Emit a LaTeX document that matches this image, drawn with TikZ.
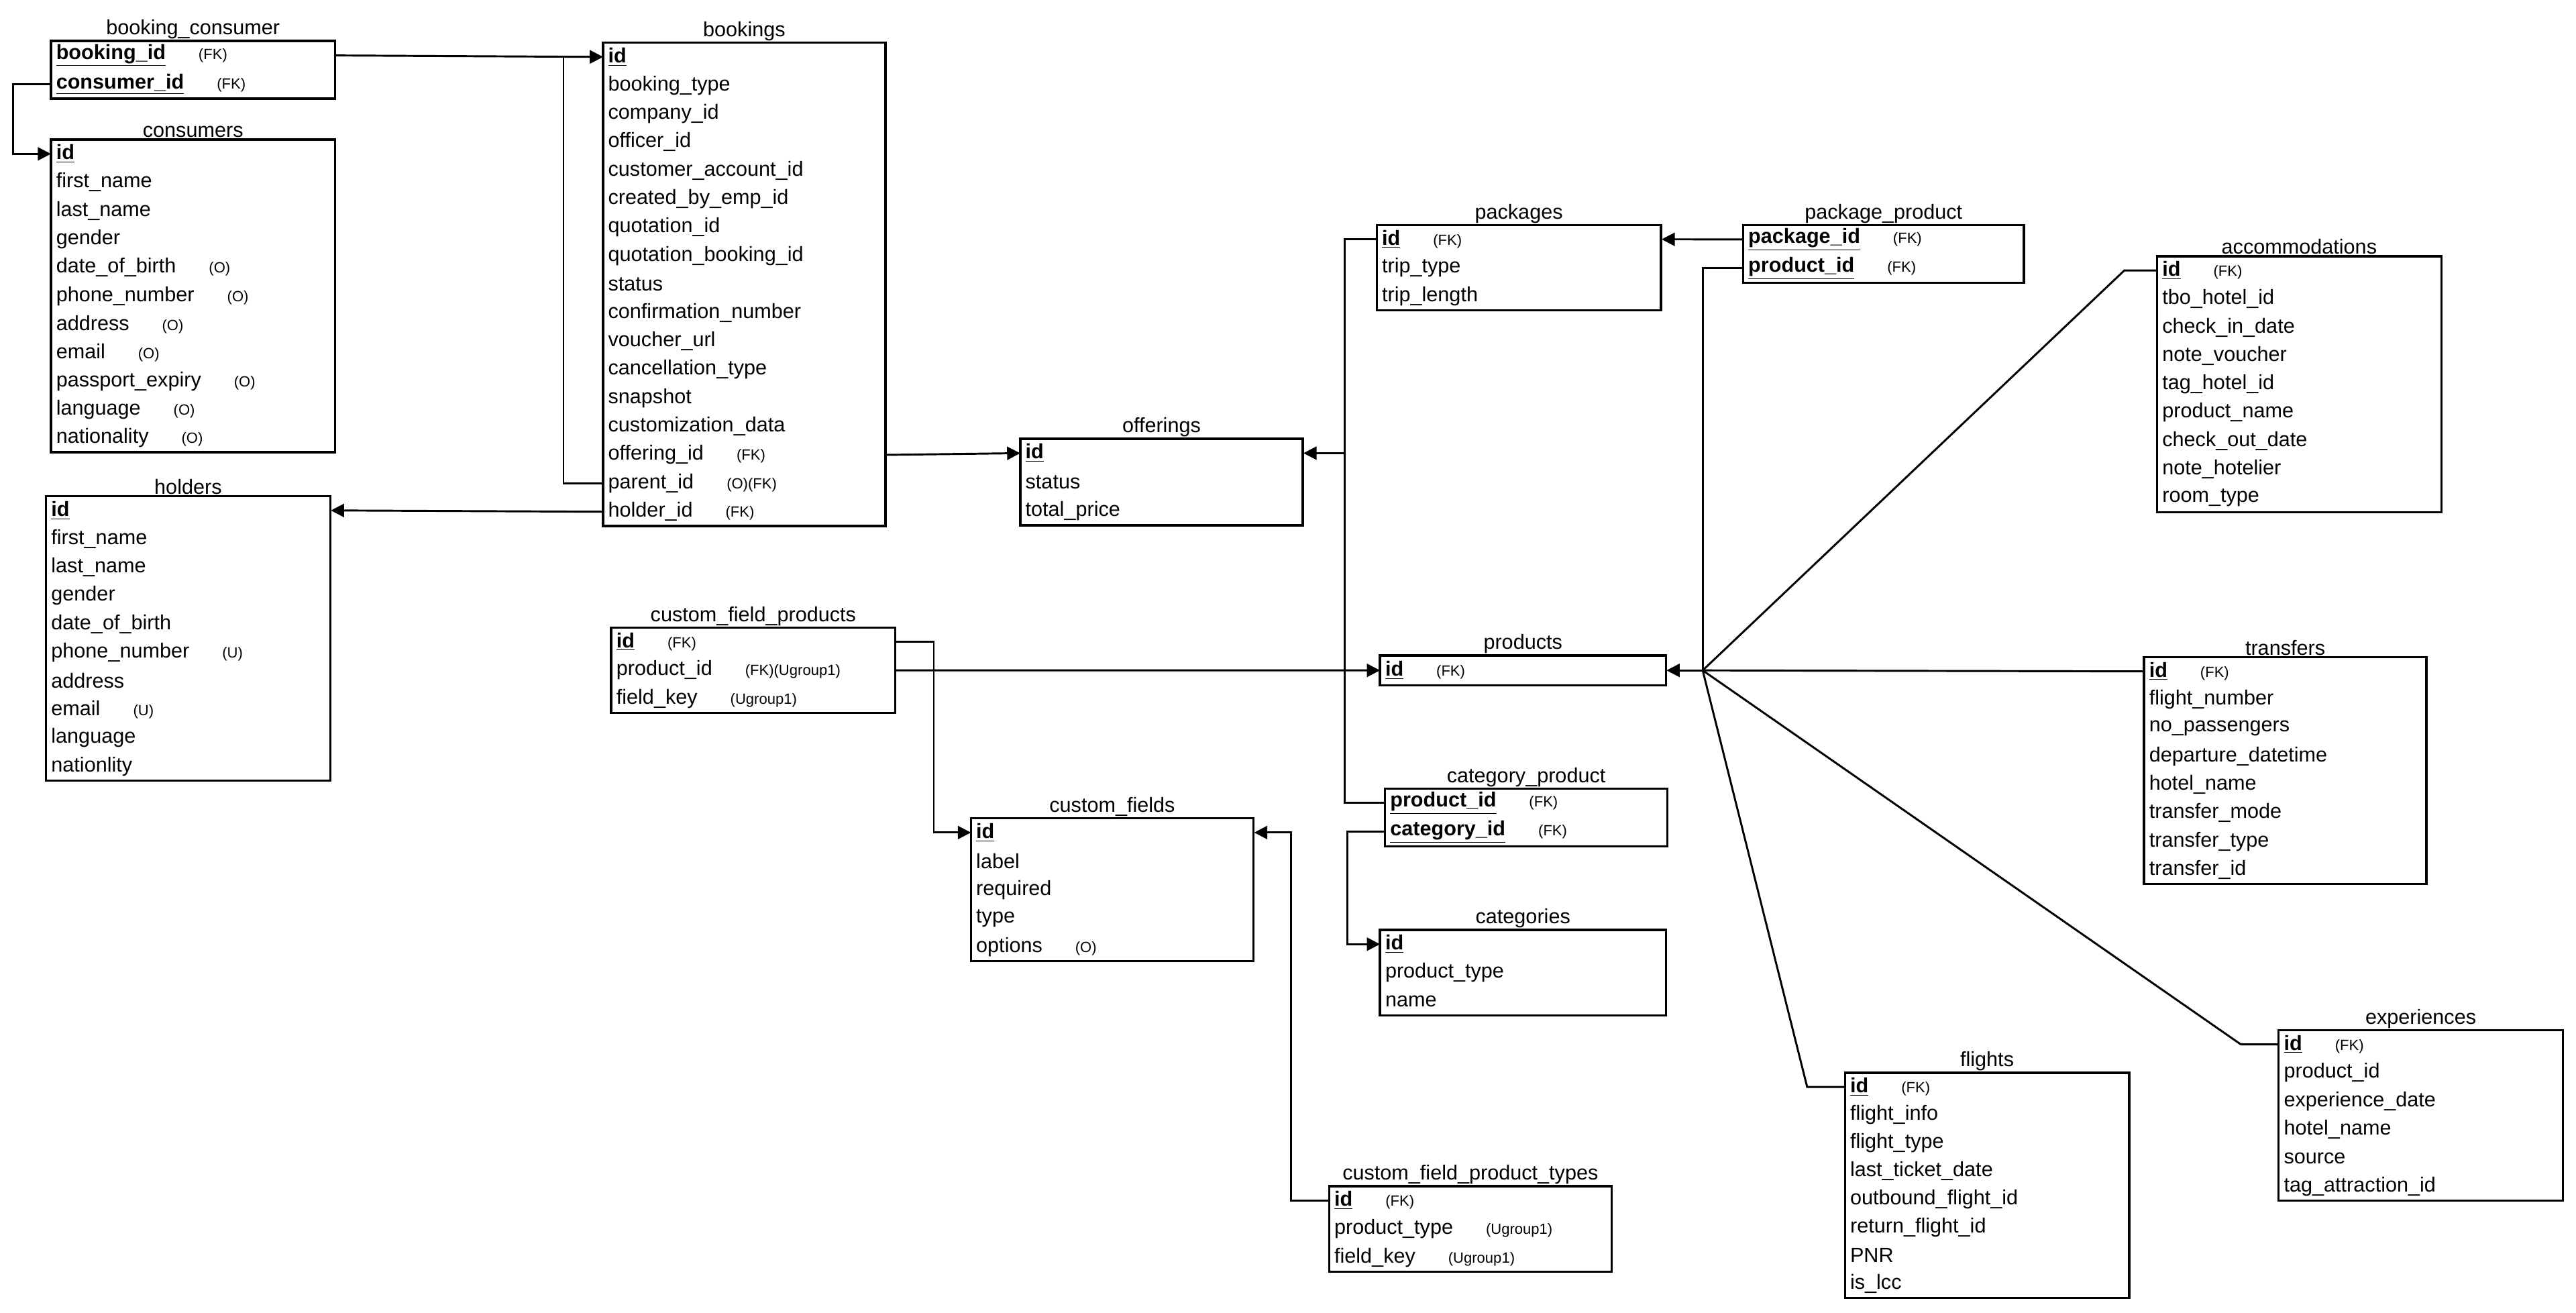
\documentclass[tikz,border=0pt]{standalone}
\usepackage{fontspec}
\setmainfont{Liberation Sans}
\usetikzlibrary{arrows.meta,calc}
\newcommand\pk[1]{\textbf{\underline{#1}}}
\tikzset{
  boxline/.style={line width=1.4pt},
  rowtext/.style={anchor=west,inner xsep=3pt,inner ysep=0pt,align=left,font=\fontsize{12.5}{14}\selectfont},
  ttl/.style={anchor=south,inner sep=1pt,font=\fontsize{12.5}{14}\selectfont},
  wire/.style={line width=1.2pt},
  conn/.style={wire,-{Triangle[length=8pt,width=8pt]}}
}
% #1 id, #2 title, #3 left, #4 top, #5 right, #6 rowh, #7 n, #8 rows
\newcommand\etable[8]{%
  \pgfmathsetmacro\tw{#5-#3-6}%
  \foreach \t/\a [count=\i] in {#8} {
    \node[rowtext,text width=\tw pt] (#1-\i) at (#3,{-#4-(\i-0.5)*#6}) {\t\hspace{20pt}{\fontsize{9}{10}\selectfont\a}};
  }
  \draw[boxline] (#3,-#4) rectangle (#5,{-#4-#7*#6});
  \node[ttl] (#1) at ({(#3+#5)/2},-#4) {#2};
}
\begin{document}
\begin{tikzpicture}[x=1pt,y=1pt]
\useasboundingbox[fill=white] (0,0) rectangle (1568,-799);
\etable{bc}{booking\_consumer}{31}{25}{204}{17.5}{2}{{\pk{booking\_id}}/{(FK)},{\pk{consumer\_id}}/{(FK)}}
\etable{bk}{bookings}{367}{26}{539}{17.3}{17}{{\pk{id}}/{},booking\_type/{},company\_id/{},officer\_id/{},customer\_account\_id/{},created\_by\_emp\_id/{},quotation\_id/{},quotation\_booking\_id/{},status/{},confirmation\_number/{},voucher\_url/{},cancellation\_type/{},snapshot/{},customization\_data/{},offering\_id/{(FK)},parent\_id/{(O)(FK)},holder\_id/{(FK)}}
\etable{cs}{consumers}{31}{85}{204}{17.3}{11}{{\pk{id}}/{},first\_name/{},last\_name/{},gender/{},date\_of\_birth/{(O)},phone\_number/{(O)},address/{(O)},email/{(O)},passport\_expiry/{(O)},language/{(O)},nationality/{(O)}}
\etable{ho}{holders}{28}{302}{201}{17.3}{10}{{\pk{id}}/{},first\_name/{},last\_name/{},gender/{},date\_of\_birth/{},phone\_number/{(U)},address/{},email/{(U)},language/{},nationlity/{}}
\etable{of}{offerings}{621}{267}{793}{17.6}{3}{{\pk{id}}/{},status/{},total\_price/{}}
\etable{pa}{packages}{838}{137}{1011}{17.3}{3}{{\pk{id}}/{(FK)},trip\_type/{},trip\_length/{}}
\etable{pp}{package\_product}{1061}{137}{1232}{17.5}{2}{{\pk{package\_id}}/{(FK)},{\pk{product\_id}}/{(FK)}}
\etable{ac}{accommodations}{1313}{156}{1486}{17.3}{9}{{\pk{id}}/{(FK)},tbo\_hotel\_id/{},check\_in\_date/{},note\_voucher/{},tag\_hotel\_id/{},product\_name/{},check\_out\_date/{},note\_hotelier/{},room\_type/{}}
\etable{cfp}{custom\_field\_products}{372}{382}{545}{17.3}{3}{{\pk{id}}/{(FK)},product\_id/{(FK)(Ugroup1)},field\_key/{(Ugroup1)}}
\etable{pr}{products}{840}{399}{1014}{18}{1}{{\pk{id}}/{(FK)}}
\etable{tr}{transfers}{1305}{400}{1477}{17.25}{8}{{\pk{id}}/{(FK)},flight\_number/{},no\_passengers/{},departure\_datetime/{},hotel\_name/{},transfer\_mode/{},transfer\_type/{},transfer\_id/{}}
\etable{cp}{category\_product}{843}{480}{1015}{17.5}{2}{{\pk{product\_id}}/{(FK)},{\pk{category\_id}}/{(FK)}}
\etable{cf}{custom\_fields}{591}{498}{763}{17.4}{5}{{\pk{id}}/{},label/{},required/{},type/{},options/{(O)}}
\etable{ca}{categories}{840}{566}{1014}{17.3}{3}{{\pk{id}}/{},product\_type/{},name/{}}
\etable{ex}{experiences}{1387}{627}{1560}{17.3}{6}{{\pk{id}}/{(FK)},product\_id/{},experience\_date/{},hotel\_name/{},source/{},tag\_attraction\_id/{}}
\etable{fl}{flights}{1123}{653}{1296}{17.1}{8}{{\pk{id}}/{(FK)},flight\_info/{},flight\_type/{},last\_ticket\_date/{},outbound\_flight\_id/{},return\_flight\_id/{},PNR/{},is\_lcc/{}}
\etable{cfpt}{custom\_field\_product\_types}{809}{722}{981}{17.3}{3}{{\pk{id}}/{(FK)},product\_type/{(Ugroup1)},field\_key/{(Ugroup1)}}
% connectors
\draw[conn] (bc-1.east) -- (bk-1.west);
\draw[conn] (bc-2.west) -- ++(-23,0) |- (cs-1.west);
\draw[conn] (bk-16.west) -- ++(-24,0) |- (bk-1.west);
\draw[conn] (bk-15.east) -- (of-1.west);
\draw[conn] (bk-17.west) -- (ho-1.east);
\coordinate (jo) at ([xshift=25pt]of-1.east);
\draw[wire] (pa-1.west) -| (jo) |- (cp-1.west);
\draw[conn] (jo) -- (of-1.east);
\draw[conn] (pp-1.west) -- (pa-1.east);
\coordinate (hub) at ([xshift=22pt]pr-1.east);
\draw[wire] (pp-2.west) -| (hub);
\draw[conn] (hub) -- (pr-1.east);
\draw[wire] (hub) -- ([xshift=-20pt]ac-1.west) -- (ac-1.west);
\draw[wire] (hub) -- (tr-1.west);
\draw[wire] (hub) -- ([xshift=-23pt]ex-1.west) -- (ex-1.west);
\draw[wire] (hub) -- ([xshift=-23pt]fl-1.west) -- (fl-1.west);
\draw[conn] (cfp-2.east) -- (pr-1.west);
\draw[conn] (cfp-1.east) -- ++(23,0) |- (cf-1.west);
\draw[conn] (cfpt-1.west) -- ++(-23,0) |- (cf-1.east);
\draw[conn] (cp-2.west) -- ++(-23,0) |- (ca-1.west);
\end{tikzpicture}
\end{document}
